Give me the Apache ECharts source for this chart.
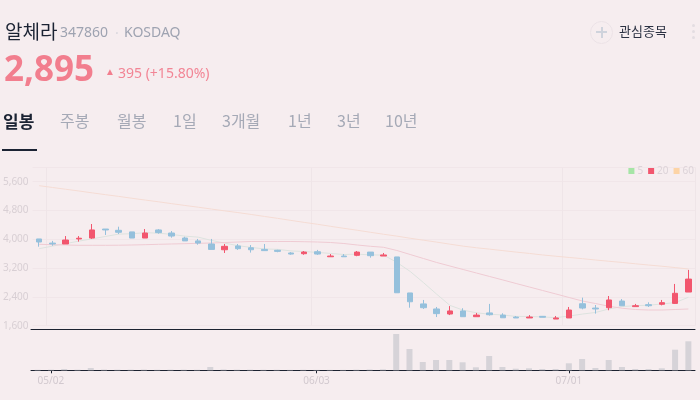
<!DOCTYPE html>
<html><head><meta charset="utf-8">
<script src="https://cdn.jsdelivr.net/npm/echarts@6/dist/echarts.min.js"></script>
<style>
html,body{margin:0;padding:0;background:#f6edef;width:700px;height:400px;overflow:hidden}
#chart{position:absolute;left:0;top:0;width:700px;height:400px}
.t{position:absolute;white-space:nowrap;line-height:1;font-family:"Noto Sans CJK KR","Noto Sans",sans-serif}
.n{font-family:"Noto Sans",sans-serif}
</style></head>
<body>
<div id="chart"></div>
<div class="t" style="left:5px;top:21px;font-size:19px;color:#1b2333">알체라</div>
<div class="t n" style="left:60px;top:25px;font-size:14px;color:#9ea3b1">347860</div>
<div class="t" style="left:113px;top:25px;font-size:14px;color:#dcd9de">·</div>
<div class="t n" style="left:124px;top:25px;font-size:14px;color:#9ea3b1">KOSDAQ</div>
<div class="t n" style="left:4px;top:50px;font-size:35px;font-weight:700;color:#f27e8e">2,895</div>
<div class="t n" style="left:105px;top:66px;font-size:10px;color:#f27e8e">▲</div>
<div class="t n" style="left:118px;top:66px;font-size:14px;color:#f28595">395 (+15.80%)</div>
<div style="position:absolute;left:590px;top:21px;width:21px;height:21px;border:1px solid #ebe2e6;border-radius:50%"></div>
<div style="position:absolute;left:596px;top:31px;width:11px;height:2px;background:#cfd3dc"></div>
<div style="position:absolute;left:600.5px;top:26.5px;width:2px;height:11px;background:#cfd3dc"></div>
<div class="t" style="left:619px;top:24px;font-size:13px;color:#2b3142">관심종목</div>
<div style="position:absolute;left:692px;top:24px;width:3px;height:3px;border-radius:50%;background:#e3dde1"></div>
<div style="position:absolute;left:692px;top:30px;width:3px;height:3px;border-radius:50%;background:#e3dde1"></div>
<div style="position:absolute;left:692px;top:36px;width:3px;height:3px;border-radius:50%;background:#e3dde1"></div>
<div class="t" style="left:3px;top:112px;font-size:17px;font-weight:700;color:#1b2333">일봉</div>
<div class="t" style="left:60px;top:112px;font-size:16px;color:#a5a9b6">주봉</div>
<div class="t" style="left:117px;top:112px;font-size:16px;color:#a5a9b6">월봉</div>
<div class="t" style="left:173px;top:112px;font-size:16px;color:#a5a9b6">1일</div>
<div class="t" style="left:222px;top:112px;font-size:16px;color:#a5a9b6">3개월</div>
<div class="t" style="left:288px;top:112px;font-size:16px;color:#a5a9b6">1년</div>
<div class="t" style="left:337px;top:112px;font-size:16px;color:#a5a9b6">3년</div>
<div class="t" style="left:385px;top:112px;font-size:16px;color:#a5a9b6">10년</div>
<div style="position:absolute;left:2px;top:149px;width:35px;height:1.5px;background:#1b2333"></div>
<script>
const dates = ['04/30','05/02','05/03','05/07','05/08','05/09','05/10','05/13','05/14','05/16',
 '05/17','05/20','05/21','05/22','05/23','05/24','05/27','05/28','05/29','05/30',
 '05/31','06/03','06/04','06/05','06/07','06/10','06/11','06/12','06/13','06/14',
 '06/17','06/18','06/19','06/20','06/21','06/24','06/25','06/26','06/27','06/28',
 '07/01','07/02','07/03','07/04','07/05','07/08','07/09','07/10','07/11','07/12'];
const labelIdx = [1, 21, 40];
const opens  = [4010,3895,3870,4010,4035,4285,4250,4205,4035,4260,4175,4035,3955,3870,3710,3815,3765,3720,3695,3620,
 3600,3655,3515,3535,3555,3645,3535,3510,2510,2205,2065,1925,2010,1850,1955,1895,1840,1815,1860,1785,
 1815,2210,2090,2100,2285,2130,2185,2195,2220,2535];
const closes = [3925,3870,3980,4030,4260,4260,4195,4035,4175,4185,4090,3955,3895,3720,3805,3740,3710,3685,3665,3590,
 3645,3590,3535,3515,3645,3545,3565,2515,2265,2100,1935,2010,1850,1895,1905,1820,1815,1840,1835,1815,
 2035,2090,2065,2315,2155,2155,2155,2240,2500,2895];
const lows   = [3795,3820,3870,3935,4010,4120,4145,4035,4035,4155,4045,3955,3850,3720,3620,3705,3630,3675,3640,3570,
 3570,3565,3515,3515,3530,3490,3535,2515,2100,2065,1840,1895,1850,1850,1880,1820,1815,1815,1835,1785,
 1815,2055,1935,2030,2155,2130,2120,2165,2205,2535];
const highs  = [4010,3955,4090,4090,4425,4285,4350,4205,4285,4285,4230,4070,4010,4010,3870,3870,3840,3870,3710,3645,
 3675,3705,3590,3590,3675,3645,3620,3510,2510,2315,2120,2145,2085,1955,2205,1945,1870,1895,1870,1870,
 2120,2380,2175,2425,2340,2205,2250,2315,2760,3150];
const ma5  = [3740,3810,3880,3950,4013,4079,4144,4155,4184,4170,4136,4088,4060,3970,3894,3823,3775,3732,3721,3678,
 3660,3636,3607,3577,3588,3567,3562,3358,3108,2799,2476,2165,2032,1958,1919,1897,1858,1856,1843,1825,
 1868,1923,1968,2064,2132,2156,2169,2204,2241,2389];
const ma20 = [3861,3850,3842,3833,3833,3833,3836,3842,3850,3861,3870,3878,3889,3897,3911,3925,3939,3939,3939,3939,
 3933,3925,3911,3883,3842,3806,3778,3689,3578,3467,3356,3258,3161,3064,2967,2870,2772,2675,2578,2481,
 2383,2286,2215,2140,2085,2050,2036,2036,2050,2064];
const ma60 = [5489,5440,5390,5342,5290,5240,5192,5140,5090,5042,4990,4940,4892,4840,4790,4742,4690,4635,4582,4525,
 4470,4418,4360,4305,4252,4195,4140,4088,4030,3975,3922,3865,3810,3765,3727,3685,3645,3607,3565,3530,
 3495,3462,3425,3390,3357,3320,3285,3252,3215,3175];
const volumes = [50,60,130,60,230,70,60,60,70,50,60,60,50,330,80,60,60,50,50,40,
 50,40,40,40,60,80,90,3630,2130,830,1030,1030,800,300,1430,330,160,200,130,130,
 700,1130,230,1030,330,130,130,200,2060,2900];

const RED = '#f2566e', BLUE = '#95c0dc';
const showIdx = (i) => labelIdx.indexOf(i) >= 0;
const kData = opens.map((o, i) => [o, closes[i], lows[i], highs[i]]);

const chart = echarts.init(document.getElementById('chart'), null, {renderer: 'canvas'});
chart.setOption({
  backgroundColor: 'transparent',
  animation: false,
  textStyle: {fontFamily: '"Noto Sans", sans-serif'},
  legend: {
    data: [
      {name: '5', itemStyle: {color: '#a6e5a6'}},
      {name: '20', itemStyle: {color: RED}},
      {name: '60', itemStyle: {color: '#fdd4a6'}}
    ],
    right: 6, top: 166, padding: 0, icon: 'rect', itemWidth: 6, itemHeight: 6, itemGap: 5,
    textStyle: {color: '#dcd3d8', fontSize: 10, padding: [0, 0, 0, -2]},
    selectedMode: false
  },
  grid: [
    {left: 31, right: 5, top: 167.3, height: 158.4},
    {left: 31, right: 5, top: 329.3, height: 41}
  ],
  xAxis: [
    {type: 'category', gridIndex: 0, data: dates, boundaryGap: true,
     axisLine: {show: false}, axisTick: {show: false}, axisLabel: {show: false},
     splitLine: {show: true, interval: (i) => showIdx(i), lineStyle: {color: '#efe5e8', width: 1}}},
    {type: 'category', gridIndex: 1, data: dates, boundaryGap: true,
     axisLine: {show: true, lineStyle: {color: '#1c2230', width: 1}},
     axisTick: {show: true, alignWithLabel: true, interval: (i) => showIdx(i), length: 3, lineStyle: {color: '#1c2230'}},
     axisLabel: {show: true, interval: (i) => showIdx(i), color: '#d2c9cf', fontSize: 10, margin: 6},
     splitLine: {show: false}},
    {type: 'category', gridIndex: 1, data: dates, position: 'top', boundaryGap: true,
     axisLine: {show: true, lineStyle: {color: '#1c2230', width: 1}},
     axisTick: {show: false}, axisLabel: {show: false}, splitLine: {show: false}}
  ],
  yAxis: [
    {type: 'value', gridIndex: 0, min: 1600, max: 6000, interval: 800, scale: false,
     axisLine: {show: false}, axisTick: {show: false},
     axisLabel: {color: '#d8cfd4', fontSize: 10, margin: 4, showMaxLabel: false,
       formatter: (v) => v.toLocaleString('en-US')},
     splitLine: {lineStyle: {color: '#f1e6e9', width: 1}}},
    {type: 'value', gridIndex: 1, min: 0, max: 4100, show: false, splitLine: {show: false}}
  ],
  series: [
    {name: '5', type: 'line', xAxisIndex: 0, yAxisIndex: 0, data: ma5, symbol: 'none',
     itemStyle: {color: '#a6e5a6'}, lineStyle: {color: '#dde3df', width: 1}, z: 1},
    {name: '20', type: 'line', xAxisIndex: 0, yAxisIndex: 0, data: ma20, symbol: 'none',
     itemStyle: {color: RED}, lineStyle: {color: '#efcbd3', width: 1}, z: 1},
    {name: '60', type: 'line', xAxisIndex: 0, yAxisIndex: 0, data: ma60, symbol: 'none',
     itemStyle: {color: '#fdd4a6'}, lineStyle: {color: '#f5dcd4', width: 1}, z: 1},
    {name: 'price', type: 'candlestick', xAxisIndex: 0, yAxisIndex: 0, data: kData, barWidth: 6,
     itemStyle: {color: RED, color0: BLUE, borderColor: RED, borderColor0: BLUE, borderWidth: 1}, z: 3},
    {name: 'volume', type: 'bar', xAxisIndex: 1, yAxisIndex: 1, data: volumes, barWidth: 6,
     itemStyle: {color: '#d6d3d8'}}
  ]
});
</script>
</body></html>
